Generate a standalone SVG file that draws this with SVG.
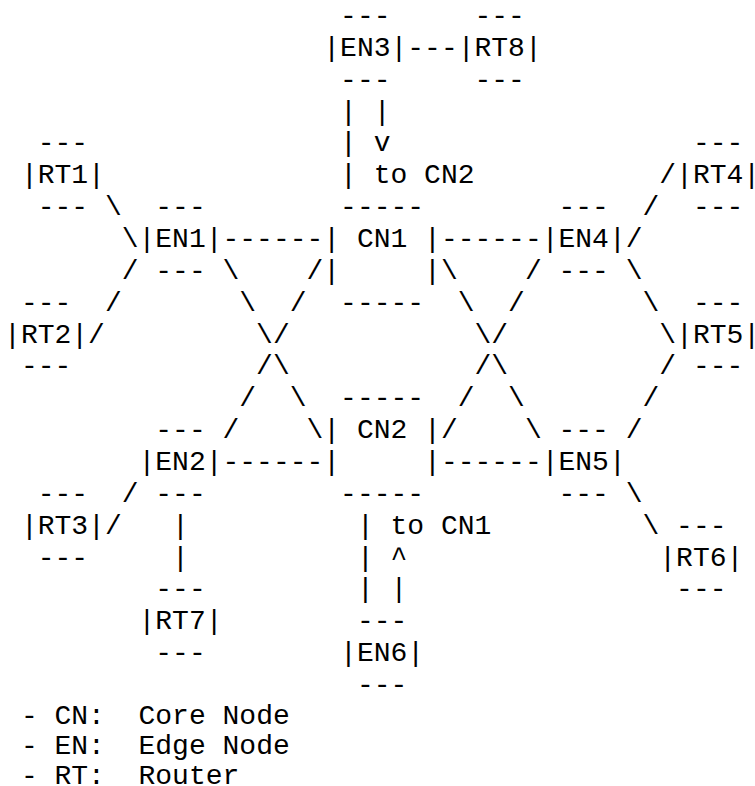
<svg xmlns="http://www.w3.org/2000/svg" width="755" height="786" viewBox="0 0 755 786" xml:space="preserve">
<style>
text{font-family:"Liberation Mono","Courier New",monospace;font-size:28px;fill:#000;white-space:pre}
</style>
<rect width="755" height="786" fill="#fff"/>
<g id="EN3"><text x="340.1" y="24">---</text><text x="323.3" y="55.9">|EN3|</text><text x="340.1" y="87.7">---</text></g>
<g id="RT8"><text x="474.5" y="24">---</text><text x="457.7" y="55.9">|RT8|</text><text x="474.5" y="87.7">---</text></g>
<g id="RT1"><text x="37.7" y="151.4">---</text><text x="20.9" y="183.3">|RT1|</text><text x="37.7" y="215.1">---</text></g>
<g id="RT4"><text x="692.9" y="151.4">---</text><text x="676.1" y="183.3">|RT4|</text><text x="692.9" y="215.1">---</text></g>
<g id="EN1"><text x="155.3" y="215.1">---</text><text x="138.5" y="247">|EN1|</text><text x="155.3" y="278.8">---</text></g>
<g id="CN1"><text x="340.1" y="215.1">-----</text><text x="323.3" y="247">| CN1 |</text><text x="323.3" y="278.8">|</text><text x="424.1" y="278.8">|</text><text x="340.1" y="310.7">-----</text></g>
<g id="EN4"><text x="558.5" y="215.1">---</text><text x="541.7" y="247">|EN4|</text><text x="558.5" y="278.8">---</text></g>
<g id="RT2"><text x="20.9" y="310.7">---</text><text x="4.1" y="342.5">|RT2|</text><text x="20.9" y="374.4">---</text></g>
<g id="RT5"><text x="692.9" y="310.7">---</text><text x="676.1" y="342.5">|RT5|</text><text x="692.9" y="374.4">---</text></g>
<g id="EN2"><text x="155.3" y="438.1">---</text><text x="138.5" y="469.9">|EN2|</text><text x="155.3" y="501.8">---</text></g>
<g id="CN2"><text x="340.1" y="406.2">-----</text><text x="323.3" y="438.1">| CN2 |</text><text x="323.3" y="469.9">|</text><text x="424.1" y="469.9">|</text><text x="340.1" y="501.8">-----</text></g>
<g id="EN5"><text x="558.5" y="438.1">---</text><text x="541.7" y="469.9">|EN5|</text><text x="558.5" y="501.8">---</text></g>
<g id="RT3"><text x="37.7" y="501.8">---</text><text x="20.9" y="533.6">|RT3|</text><text x="37.7" y="565.5">---</text></g>
<g id="RT6"><text x="676.1" y="533.6">---</text><text x="659.3" y="565.5">|RT6|</text><text x="676.1" y="597.3">---</text></g>
<g id="RT7"><text x="155.3" y="597.3">---</text><text x="138.5" y="629.2">|RT7|</text><text x="155.3" y="661">---</text></g>
<g id="EN6"><text x="356.9" y="629.2">---</text><text x="340.1" y="661">|EN6|</text><text x="356.9" y="692.9">---</text></g>
<g id="connectors">
<text x="407.3" y="55.9">---</text>
<text x="340.1" y="119.6">| |</text>
<text x="340.1" y="151.4">| v</text>
<text x="340.1" y="183.3">| to CN2</text>
<text x="659.3" y="183.3">/</text>
<text x="104.9" y="215.1">\</text>
<text x="642.5" y="215.1">/</text>
<text x="121.7" y="247">\</text>
<text x="222.5" y="247">------</text>
<text x="440.9" y="247">------</text>
<text x="625.7" y="247">/</text>
<text x="121.7" y="278.8">/</text>
<text x="222.5" y="278.8">\</text>
<text x="306.5" y="278.8">/</text>
<text x="440.9" y="278.8">\</text>
<text x="524.9" y="278.8">/</text>
<text x="625.7" y="278.8">\</text>
<text x="104.9" y="310.7">/</text>
<text x="239.3" y="310.7">\</text>
<text x="289.7" y="310.7">/</text>
<text x="457.7" y="310.7">\</text>
<text x="508.1" y="310.7">/</text>
<text x="642.5" y="310.7">\</text>
<text x="88.1" y="342.5">/</text>
<text x="256.1" y="342.5">\/</text>
<text x="474.5" y="342.5">\/</text>
<text x="659.3" y="342.5">\</text>
<text x="256.1" y="374.4">/\</text>
<text x="474.5" y="374.4">/\</text>
<text x="659.3" y="374.4">/</text>
<text x="239.3" y="406.2">/</text>
<text x="289.7" y="406.2">\</text>
<text x="457.7" y="406.2">/</text>
<text x="508.1" y="406.2">\</text>
<text x="642.5" y="406.2">/</text>
<text x="222.5" y="438.1">/</text>
<text x="306.5" y="438.1">\</text>
<text x="440.9" y="438.1">/</text>
<text x="524.9" y="438.1">\</text>
<text x="625.7" y="438.1">/</text>
<text x="222.5" y="469.9">------</text>
<text x="440.9" y="469.9">------</text>
<text x="121.7" y="501.8">/</text>
<text x="625.7" y="501.8">\</text>
<text x="104.9" y="533.6">/</text>
<text x="172.1" y="533.6">|</text>
<text x="356.9" y="533.6">| to CN1</text>
<text x="642.5" y="533.6">\</text>
<text x="172.1" y="565.5">|</text>
<text x="356.9" y="565.5">| ^</text>
<text x="356.9" y="597.3">| |</text>
</g>
<g id="legend">
<text x="20.9" y="723.5">- CN:  Core Node</text>
<text x="20.9" y="754">- EN:  Edge Node</text>
<text x="20.9" y="784">- RT:  Router</text>
</g>
</svg>
